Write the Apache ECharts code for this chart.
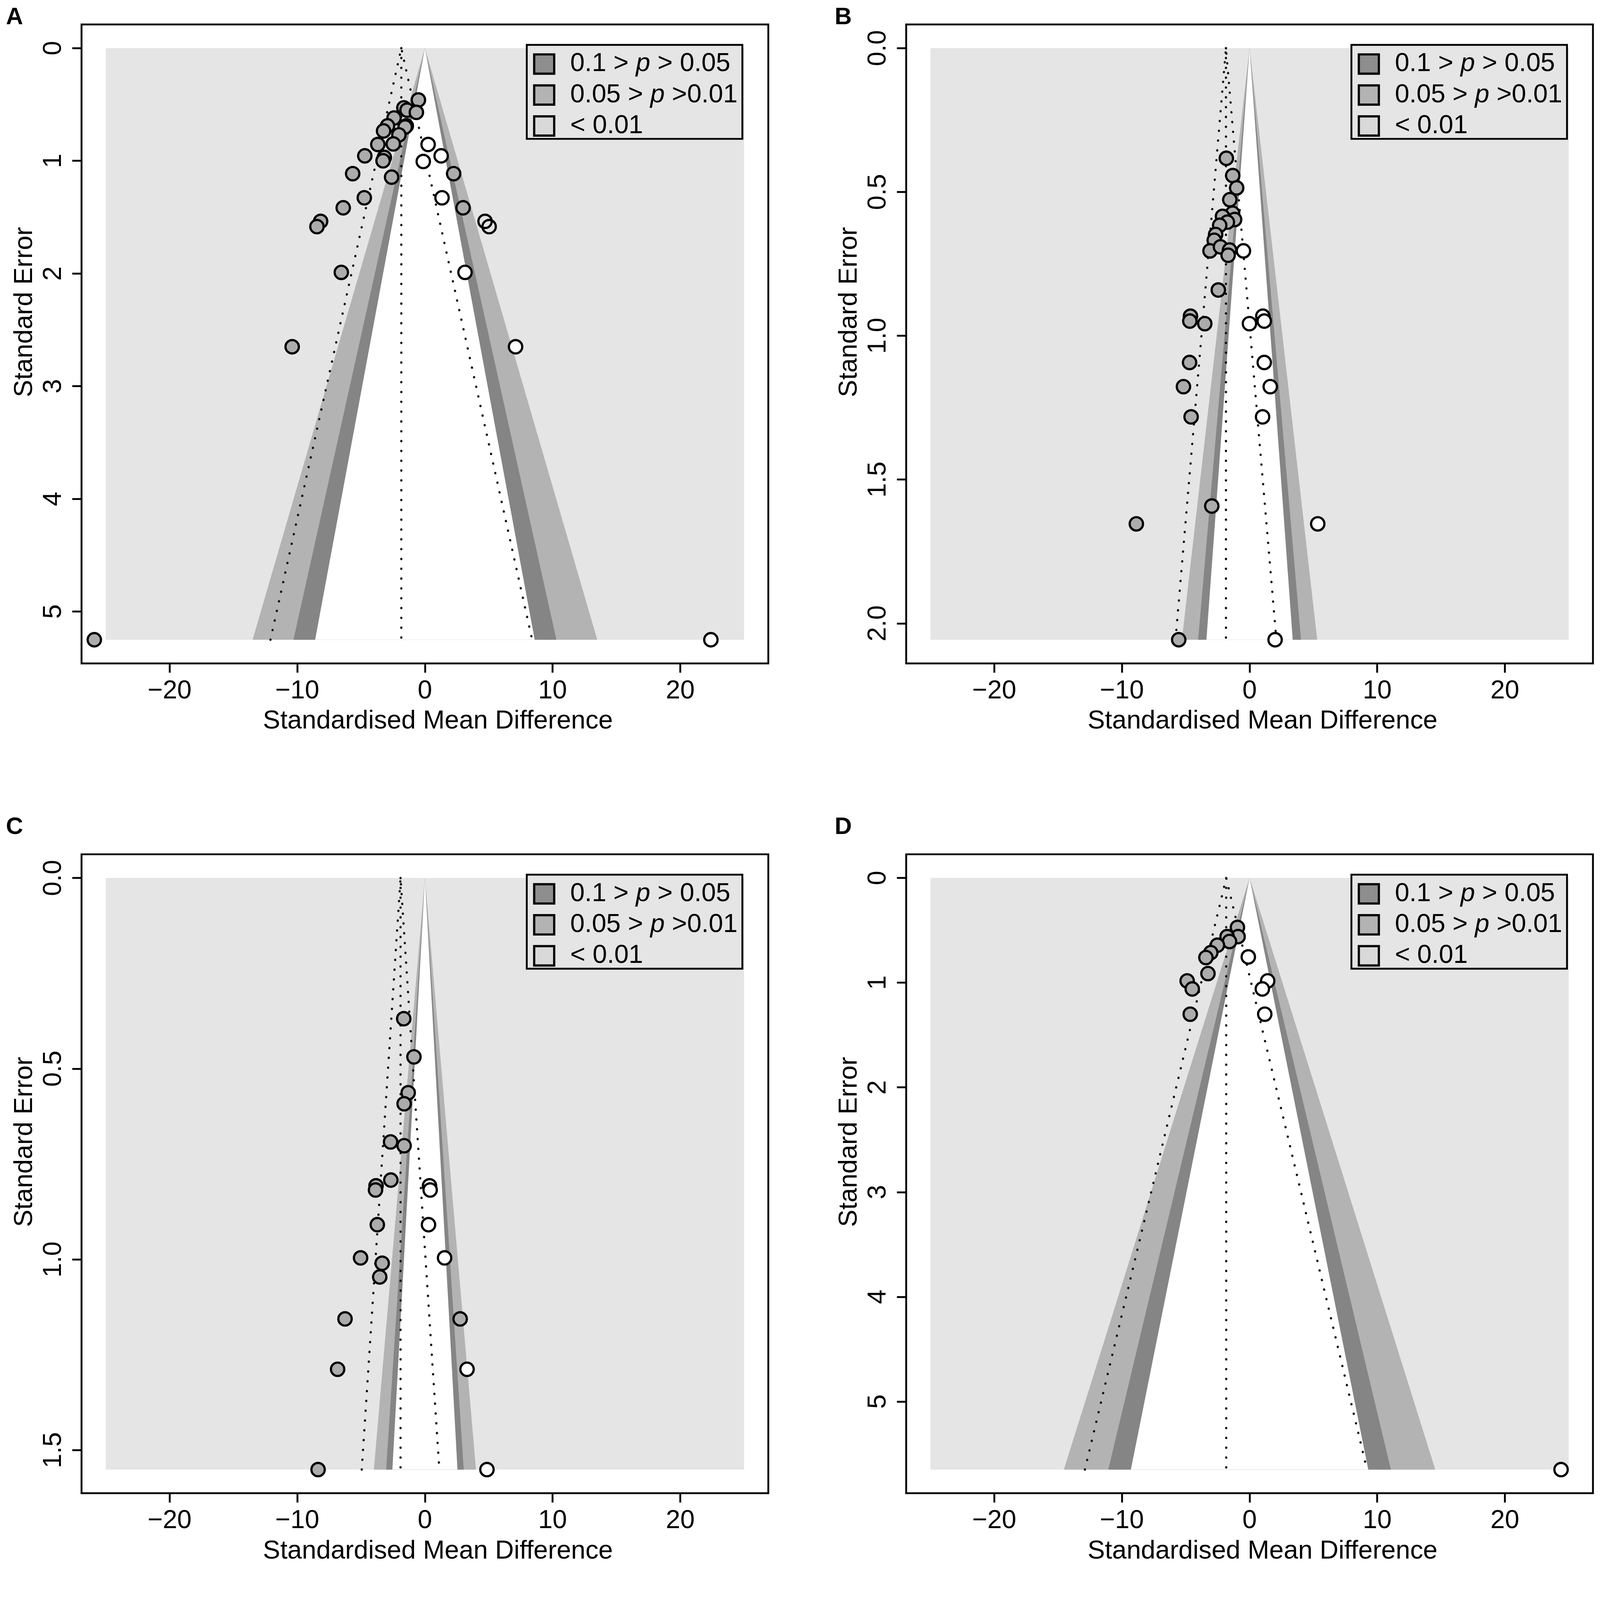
<!DOCTYPE html>
<html>
<head>
<meta charset="utf-8">
<script src="https://cdn.jsdelivr.net/npm/echarts@6/dist/echarts.min.js"></script>
<style>
html, body { margin: 0; padding: 0; background: #fff; overflow: hidden; }
#chart { width: 100vw; height: 100vh; }
</style>
</head>
<body>
<div id="chart"></div>
<script>
// tick values
var smdTicks = [-20, -10, 0, 10, 20];
var seTicksA = [0, 1, 2, 3, 4, 5];
var seTicksB = [0, 0.5, 1, 1.5, 2];
var seTicksC = [0, 0.5, 1, 1.5];
var seTicksD = [0, 1, 2, 3, 4, 5];

// funnel geometry: max SE, pooled estimate, dotted CI ends, contour half-widths at max SE
var bgHalfWidth = 25;
var seMaxA = 5.25, pooledA = -1.85, ciA = [-12.1, 8.4],  bandsA = [8.6, 10.3, 13.5];
var seMaxB = 2.057, pooledB = -1.85, ciB = [-5.8, 2.1], bandsB = [3.38, 4.03, 5.3];
var seMaxC = 1.551, pooledC = -1.91, ciC = [-4.95, 1.13], bandsC = [2.55, 3.04, 4.0];
var seMaxD = 5.65, pooledD = -1.83, ciD = [-12.9, 9.2], bandsD = [9.3, 11.07, 14.55];

// studies [SMD, SE]
var grayA = [[-0.51,0.46],[-1.65,0.53],[-1.40,0.55],[-0.67,0.57],[-2.42,0.62],[-1.46,0.69],[-1.55,0.70],
  [-2.93,0.69],[-3.24,0.735],[-2.04,0.77],[-3.69,0.855],[-2.48,0.85],[-4.71,0.956],[-3.18,0.97],[-3.28,1.0],
  [-5.66,1.114],[-2.61,1.145],[2.25,1.114],[-4.75,1.328],[-6.40,1.417],[2.99,1.417],[-8.17,1.537],[-8.46,1.584],
  [-6.55,1.99],[-10.4,2.65],[-25.9,5.25]];
var whiteA = [[0.25,0.855],[1.27,0.956],[-0.13,1.006],[1.34,1.328],[3.14,1.99],[7.1,2.65],[22.4,5.25]];
var openA = [[4.71,1.537],[5.03,1.584]];

var grayB = [[-1.82,0.383],[-1.32,0.443],[-1.01,0.486],[-1.55,0.527],[-1.33,0.574],[-2.12,0.585],[-1.17,0.596],
  [-1.74,0.605],[-2.34,0.616],[-2.66,0.648],[-2.77,0.668],[-3.10,0.705],[-2.28,0.691],[-1.57,0.702],[-1.68,0.72],
  [-2.45,0.841],[-4.63,0.932],[-4.68,0.949],[-3.51,0.958],[-4.70,1.093],[-5.18,1.177],[-4.58,1.282],[-2.96,1.592],
  [-8.87,1.654],[-5.55,2.057]];
var whiteB = [[-0.48,0.705],[-0.01,0.958],[1.04,0.932],[1.15,0.949],[1.15,1.093],[1.62,1.177],[1.02,1.282],
  [5.34,1.654],[2.0,2.057]];

var grayC = [[-1.66,0.369],[-0.86,0.469],[-1.31,0.563],[-1.63,0.592],[-2.69,0.692],[-1.63,0.702],[-2.67,0.792],
  [-3.83,0.807],[-3.87,0.818],[-3.73,0.909],[-5.04,0.996],[-3.35,1.010],[-3.54,1.046],[-6.26,1.156],[2.76,1.156],
  [-6.84,1.288],[-8.37,1.551]];
var whiteC = [[0.36,0.807],[0.41,0.818],[0.28,0.909],[1.54,0.996],[3.30,1.288],[4.86,1.551]];

var grayD = [[-0.95,0.472],[-0.90,0.560],[-1.76,0.560],[-1.57,0.607],[-2.52,0.642],[-3.04,0.713],[-3.42,0.760],
  [-3.26,0.913],[-4.89,0.983],[-4.49,1.060],[-4.65,1.301]];
var whiteD = [[-0.10,0.754],[1.42,0.983],[1.00,1.060],[1.19,1.301],[24.4,5.65]];

var legendNames = ['0.1 > p > 0.05', '0.05 > p >0.01', '< 0.01'];

var FONT = '"Liberation Sans", Arial, Helvetica, sans-serif';
var chart = echarts.init(document.getElementById('chart'), null, { renderer: 'canvas' });

// layout was measured on the 4317 x 4226 figure; scale it to the real viewport
var S = Math.min(window.innerWidth / 4317, window.innerHeight / 4226);
function px(v) { return v * S; }

var grids = [], xAxes = [], yAxes = [], series = [], legends = [], graphics = [];

function minusFmt(v) {
    return v < 0 ? '\u2212' + (-v) : String(v);
}

function triangle(params, api) {
    var w = api.value(0), s = api.value(1);
    return {
        type: 'polygon',
        shape: { points: [api.coord([0, 0]), api.coord([-w, s]), api.coord([w, s])] },
        style: { fill: api.visual('color'), stroke: null, lineWidth: 0 }
    };
}

function bgRect(params, api) {
    var w = api.value(0), s = api.value(1);
    var p0 = api.coord([-w, 0]), p1 = api.coord([w, s]);
    return {
        type: 'rect',
        shape: { x: p0[0], y: p0[1], width: p1[0] - p0[0], height: p1[1] - p0[1] },
        style: { fill: api.visual('color'), stroke: null, lineWidth: 0 }
    };
}

function addPanel(i, p) {
    var fs = px(70);
    grids.push({
        left: px(p.left), top: px(p.top), width: px(1853), height: px(1724),
        show: true, borderColor: '#000', borderWidth: px(5), backgroundColor: 'transparent'
    });
    xAxes.push({
        gridIndex: i, type: 'value', min: -26.9, max: 26.9, position: 'bottom',
        name: 'Standardised Mean Difference', nameLocation: 'middle', nameGap: px(122),
        nameTextStyle: { fontSize: fs, fontFamily: FONT, color: '#000', padding: [0, 0, 0, px(70)] },
        axisLine: { show: false, onZero: false },
        splitLine: { show: false },
        axisTick: { show: true, length: px(25), lineStyle: { color: '#000', width: px(5) }, customValues: smdTicks },
        axisLabel: { customValues: smdTicks, margin: px(40), fontSize: fs, fontFamily: FONT, color: '#000', formatter: minusFmt }
    });
    yAxes.push({
        gridIndex: i, type: 'value', inverse: true, min: -0.04 * p.seMax, max: 1.04 * p.seMax, position: 'left',
        name: 'Standard Error', nameLocation: 'middle', nameGap: px(118),
        nameTextStyle: { fontSize: fs, fontFamily: FONT, color: '#000', padding: [0, 0, 0, px(172)] },
        axisLine: { show: false, onZero: false },
        splitLine: { show: false },
        axisTick: { show: true, length: px(25), lineStyle: { color: '#000', width: px(5) }, customValues: p.seTicks },
        axisLabel: {
            customValues: p.seTicks, margin: px(40), rotate: 90, fontSize: fs, fontFamily: FONT, color: '#000',
            formatter: function (v) { return p.decimals ? v.toFixed(1) : String(v); }
        }
    });

    var ax = { xAxisIndex: i, yAxisIndex: i, silent: true };
    series.push(Object.assign({ type: 'custom', name: '< 0.01', renderItem: bgRect,
        itemStyle: { color: '#e5e5e5' }, data: [[bgHalfWidth, p.seMax]], z: 1 }, ax));
    series.push(Object.assign({ type: 'custom', name: '0.05 > p >0.01', renderItem: triangle,
        itemStyle: { color: '#b3b3b3' }, data: [[p.bands[2], p.seMax]], z: 2 }, ax));
    series.push(Object.assign({ type: 'custom', name: '0.1 > p > 0.05', renderItem: triangle,
        itemStyle: { color: '#858585' }, data: [[p.bands[1], p.seMax]], z: 3 }, ax));
    series.push(Object.assign({ type: 'custom', name: 'p > 0.1', renderItem: triangle,
        itemStyle: { color: '#ffffff' }, data: [[p.bands[0], p.seMax]], z: 4 }, ax));

    var dots = { color: '#111', width: px(6), type: [px(0.5), px(26)], cap: 'round' };
    series.push(Object.assign({ type: 'line', name: 'pooled', symbol: 'none', lineStyle: dots,
        data: [[p.pooled, 0], [p.pooled, p.seMax]], z: 5 }, ax));
    series.push(Object.assign({ type: 'line', name: 'ci', symbol: 'none', lineStyle: dots,
        data: [[p.ci[0], p.seMax], [p.pooled, 0], [p.ci[1], p.seMax]], z: 5 }, ax));

    var pts = [[p.gray, '#acacac'], [p.white, '#ffffff'], [p.open || [], 'rgba(0,0,0,0)']];
    pts.forEach(function (s) {
        series.push(Object.assign({ type: 'scatter', name: 'study', symbol: 'circle', symbolSize: px(36),
            itemStyle: { color: s[1], borderColor: '#000', borderWidth: px(6), opacity: 1 },
            data: s[0], z: 6 }, ax));
    });

    var iconStyle = function (c) { return { color: c, borderColor: '#000', borderWidth: px(6) }; };
    legends.push({
        right: px(p.legendRight), top: px(p.legendTop), orient: 'vertical', selectedMode: false,
        backgroundColor: '#e5e5e5', borderColor: '#000', borderWidth: px(5),
        padding: [px(17), px(13), 0, px(17)], itemGap: px(14), itemWidth: px(54), itemHeight: px(52),
        data: [
            { name: legendNames[0], icon: 'rect', itemStyle: iconStyle('#8e8e8e') },
            { name: legendNames[1], icon: 'rect', itemStyle: iconStyle('#b3b3b3') },
            { name: legendNames[2], icon: 'rect', itemStyle: iconStyle('#d9d9d9') }
        ],
        formatter: function (name) { return name.replace(' p ', ' {i|p} '); },
        textStyle: {
            fontSize: fs, fontFamily: FONT, color: '#000', lineHeight: px(60), padding: [0, 0, 0, px(38)],
            rich: { i: { fontSize: fs, fontFamily: FONT, fontStyle: 'italic', color: '#000', lineHeight: px(60) } }
        }
    });

    graphics.push({
        type: 'text', left: px(p.letterX), top: px(p.letterY),
        style: { text: p.letter, font: 'bold ' + px(64) + 'px ' + FONT, fill: '#000' }
    });
}

addPanel(0, { left: 220, top: 66, seMax: seMaxA, seTicks: seTicksA, decimals: false, pooled: pooledA, ci: ciA,
    bands: bandsA, gray: grayA, white: whiteA, open: openA, legendRight: 2314, legendTop: 121,
    letter: 'A', letterX: 16, letterY: 16 });
addPanel(1, { left: 2445, top: 66, seMax: seMaxB, seTicks: seTicksB, decimals: true, pooled: pooledB, ci: ciB,
    bands: bandsB, gray: grayB, white: whiteB, legendRight: 89, legendTop: 121,
    letter: 'B', letterX: 2252, letterY: 16 });
addPanel(2, { left: 220, top: 2305, seMax: seMaxC, seTicks: seTicksC, decimals: true, pooled: pooledC, ci: ciC,
    bands: bandsC, gray: grayC, white: whiteC, legendRight: 2314, legendTop: 2360,
    letter: 'C', letterX: 16, letterY: 2200 });
addPanel(3, { left: 2445, top: 2305, seMax: seMaxD, seTicks: seTicksD, decimals: false, pooled: pooledD, ci: ciD,
    bands: bandsD, gray: grayD, white: whiteD, legendRight: 89, legendTop: 2360,
    letter: 'D', letterX: 2252, letterY: 2200 });

chart.setOption({
    backgroundColor: '#ffffff',
    animation: false,
    grid: grids,
    xAxis: xAxes,
    yAxis: yAxes,
    legend: legends,
    graphic: graphics,
    series: series
});
</script>
</body>
</html>
